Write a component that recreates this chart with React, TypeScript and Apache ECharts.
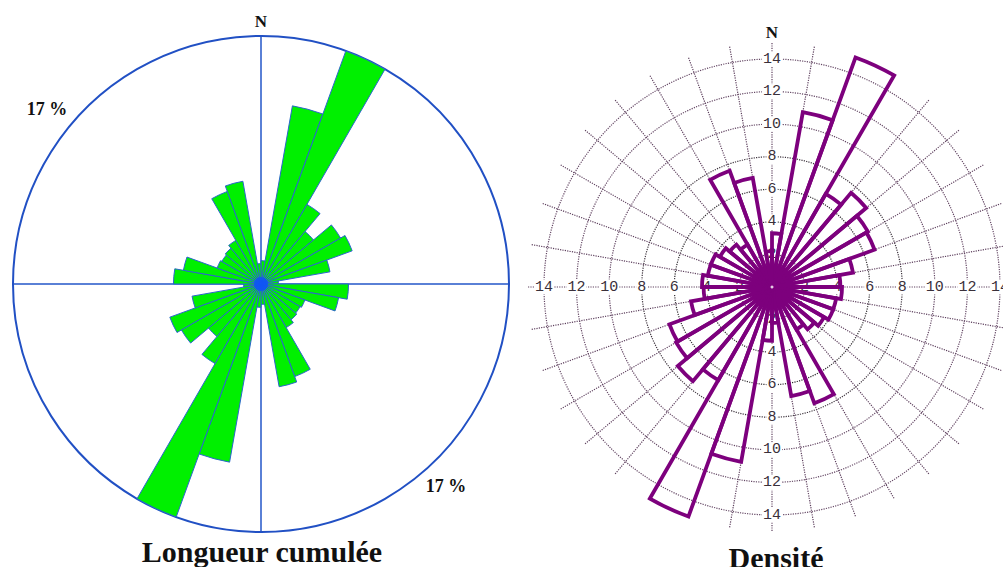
import React, { useEffect, useRef } from "react";
import * as echarts from "echarts";

// 10° azimuth classes, clockwise from North
const sectors = [
  "0°", "10°", "20°", "30°", "40°", "50°", "60°", "70°", "80°",
  "90°", "100°", "110°", "120°", "130°", "140°", "150°", "160°", "170°",
  "180°", "190°", "200°", "210°", "220°", "230°", "240°", "250°", "260°",
  "270°", "280°", "290°", "300°", "310°", "320°", "330°", "340°", "350°",
];

// Longueur cumulée (%), circle = 17 %
const lengthPct = [
  1.6, 12.4, 17.0, 6.3, 4.7, 6.3, 6.65, 4.8, 1.2,
  6.0, 5.4, 3.2, 3.1, 3.2, 3.45, 6.75, 7.15, 1.4,
  1.6, 12.4, 17.0, 6.3, 4.7, 6.3, 6.65, 4.8, 1.2,
  6.0, 5.4, 3.2, 3.1, 3.2, 3.45, 6.75, 7.15, 1.4,
];

// Densité
const density = [
  3.3, 10.9, 15.0, 6.6, 7.55, 6.8, 6.7, 5.05, 4.2,
  4.3, 4.0, 4.0, 3.7, 3.4, 3.0, 7.6, 6.8, 2.2,
  3.3, 10.9, 15.0, 6.6, 7.55, 6.8, 6.7, 5.05, 4.2,
  4.3, 4.0, 4.0, 3.7, 3.4, 3.0, 7.6, 6.8, 2.2,
];

const lengthMax = 17;
const densityMax = 14;
const densityOuter = 15;
const densityStep = 2;
const ringColors = ["#ffffff", "#5e405e", "#2e2a2e", "#2e2a2e", "#3e343e", "#654865", "#654865", "#654865"];

const LC = [261, 284];
const LR = 248;
const RC = [772, 287];
const RR = 228;
const RR_OUT = 244;

const hidden = {
  axisLine: { show: false },
  axisTick: { show: false },
  axisLabel: { show: false },
  splitLine: { show: false },
  splitArea: { show: false },
};

export default function App() {
  const ref = useRef<HTMLDivElement>(null);

  useEffect(() => {
    if (!ref.current) return;
    const chart = echarts.init(ref.current, undefined, { renderer: "svg" });

    const labelPolarAngles = [90, 0, 270, 180];

    const polar: any[] = [
      { center: LC, radius: LR },
      { center: LC, radius: LR },
      { center: RC, radius: RR },
      { center: RC, radius: RR_OUT },
      ...labelPolarAngles.map(() => ({ center: RC, radius: RR })),
    ];

    const angleAxis: any[] = [
      {
        polarIndex: 0, type: "category", data: sectors, startAngle: 90, clockwise: true,
        ...hidden,
        axisLine: { show: true, lineStyle: { color: "#2150c4", width: 2 } },
      },
      {
        polarIndex: 1, type: "value", min: 0, max: 360, interval: 90, startAngle: 90, clockwise: true,
        ...hidden,
        splitLine: { show: true, lineStyle: { color: "#2457c9", width: 1.5 } },
      },
      {
        polarIndex: 2, type: "category", data: sectors, startAngle: 90, clockwise: true,
        ...hidden,
      },
      {
        polarIndex: 3, type: "value", min: 0, max: 360, interval: 10, startAngle: 90, clockwise: true,
        ...hidden,
        splitLine: { show: true, lineStyle: { color: "#5e405e", width: 1.2, type: "dotted" } },
      },
      ...labelPolarAngles.map((a, i) => ({
        polarIndex: 4 + i, type: "value", min: 0, max: 360, startAngle: a, clockwise: true,
        ...hidden,
      })),
    ];

    const radiusAxis: any[] = [
      { polarIndex: 0, type: "value", min: 0, max: lengthMax, ...hidden },
      { polarIndex: 1, type: "value", min: 0, max: lengthMax, ...hidden },
      {
        polarIndex: 2, type: "value", min: 0, max: densityMax, interval: densityStep,
        ...hidden,
        splitLine: { show: true, lineStyle: { color: ringColors, width: 1.2, type: "dotted" } },
      },
      { polarIndex: 3, type: "value", min: 0, max: densityOuter, ...hidden },
      ...labelPolarAngles.map((a, i) => ({
        polarIndex: 4 + i, type: "value", min: 0, max: densityMax, interval: densityStep,
        ...hidden,
        axisLabel: {
          show: true,
          showMinLabel: false,
          margin: 0,
          align: "center",
          verticalAlign: "middle",
          fontFamily: "Liberation Mono",
          fontSize: 15,
          color: "#3a303a",
          backgroundColor: "#ffffff",
          padding: [0, 1],
        },
      })),
    ];

    const serif = '"Liberation Serif", "Times New Roman", serif';

    chart.setOption({
      animation: false,
      polar,
      angleAxis,
      radiusAxis,
      series: [
        {
          type: "bar",
          coordinateSystem: "polar",
          polarIndex: 0,
          data: lengthPct,
          barCategoryGap: "0%",
          clip: false,
          z: 3,
          itemStyle: { color: "#00f000", borderColor: "#2a66cc", borderWidth: 1 },
        },
        {
          type: "bar",
          coordinateSystem: "polar",
          polarIndex: 2,
          data: density,
          barCategoryGap: "0%",
          clip: false,
          z: 5,
          itemStyle: { color: "rgba(0,0,0,0)", borderColor: "#7d007d", borderWidth: 3.8 },
        },
        {
          type: "scatter",
          coordinateSystem: "polar",
          polarIndex: 1,
          data: [[0, 0]],
          symbolSize: 14,
          z: 6,
          itemStyle: { color: "#0a50ff" },
        },
        {
          type: "scatter",
          coordinateSystem: "polar",
          polarIndex: 3,
          data: [[0, 0]],
          symbolSize: 3,
          z: 7,
          itemStyle: { color: "#ffffff" },
        },
      ],
      graphic: [
        {
          type: "text", x: LC[0], y: 21, z: 10,
          style: { text: "N", align: "center", verticalAlign: "middle", font: `bold 17px ${serif}`, fill: "#111" },
        },
        {
          type: "text", x: RC[0], y: 32, z: 10,
          style: { text: "N", align: "center", verticalAlign: "middle", font: `bold 17px ${serif}`, fill: "#111" },
        },
        {
          type: "text", x: 47, y: 109, z: 10,
          style: { text: "17 %", align: "center", verticalAlign: "middle", font: `bold 18px ${serif}`, fill: "#111" },
        },
        {
          type: "text", x: 446, y: 486, z: 10,
          style: { text: "17 %", align: "center", verticalAlign: "middle", font: `bold 18px ${serif}`, fill: "#111" },
        },
        {
          type: "text", x: 262, y: 551, z: 10,
          style: { text: "Longueur cumulée", align: "center", verticalAlign: "middle", font: `bold 30px ${serif}`, fill: "#111" },
        },
        {
          type: "text", x: 776, y: 557, z: 10,
          style: { text: "Densité", align: "center", verticalAlign: "middle", font: `bold 30px ${serif}`, fill: "#111" },
        },
      ],
    });

    return () => chart.dispose();
  }, []);

  return (
    <div
      ref={ref}
      style={{ position: "absolute", left: 0, top: 0, width: 1003, height: 567, background: "#ffffff" }}
    />
  );
}
